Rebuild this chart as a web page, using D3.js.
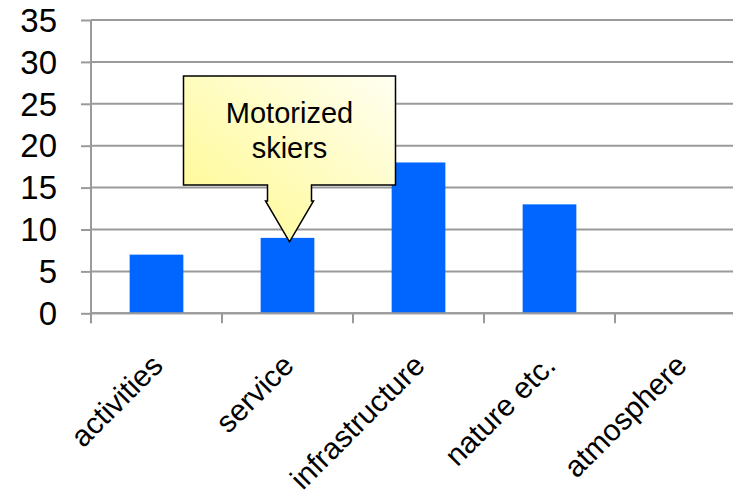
<!DOCTYPE html>
<html>
<head>
<meta charset="utf-8">
<script src="https://cdn.jsdelivr.net/npm/d3@7"></script>
<style>
  html, body { margin: 0; padding: 0; background: #fff; }
  svg { display: block; font-family: "Liberation Sans", Arial, sans-serif; }
</style>
</head>
<body>
<main><div id="svg-container"></div></main>
<script>
/** Chart data */
const categories = ["activities", "service", "infrastructure", "nature etc.", "atmosphere"];
const values = [7, 9, 18, 13, 0];
const yTicks = [0, 5, 10, 15, 20, 25, 30, 35];
const calloutLines = ["Motorized", "skiers"];
const calloutCategory = "service";

function drawSvg() {

  const w = 733;
  const h = 497;

  /** Plot area (right side runs past the window, like the original) */
  const plot = {left: 91, right: 746, top: 20, bottom: 313.3};

  const xScale = d3.scaleBand()
    .domain(categories)
    .range([plot.left, plot.right])
    .paddingInner(0.59)
    .paddingOuter(0.295)
  ;

  const xBand = d3.scaleBand()
    .domain(categories)
    .range([plot.left, plot.right])
  ;

  const yScale = d3.scaleLinear()
    .domain([0, 35])
    .range([plot.bottom, plot.top])
  ;

  const svg = d3.select("main div#svg-container")
    .append("svg")
    .attr("width", w)
    .attr("height", h)
  ;

  /** Gradient for the callout */
  const grad = svg.append("defs").append("linearGradient")
    .attr("id", "callout-fill")
    .attr("x1", "0%").attr("y1", "100%")
    .attr("x2", "100%").attr("y2", "0%")
  ;
  grad.append("stop").attr("offset", "0%").attr("stop-color", "#fff98a");
  grad.append("stop").attr("offset", "100%").attr("stop-color", "#fffff2");

  /** Horizontal gridlines */
  svg.append("g")
    .attr("id", "grid")
    .selectAll("line")
    .data(yTicks)
    .join("line")
    .attr("x1", plot.left)
    .attr("x2", w)
    .attr("y1", d => yScale(d))
    .attr("y2", d => yScale(d))
    .attr("stroke", "#9a9a9a")
    .attr("stroke-width", 2)
  ;

  /** y-axis */
  const yAxis = d3.axisLeft(yScale)
    .tickValues(yTicks)
    .tickSize(10)
    .tickPadding(24)
  ;

  const yG = svg.append("g")
    .attr("id", "y-axis")
    .attr("transform", "translate(" + plot.left + ",0)")
    .call(yAxis)
  ;
  yG.select(".domain").remove();
  yG.append("line")
    .attr("y1", plot.top)
    .attr("y2", plot.bottom + 10)
    .attr("stroke", "#9a9a9a")
    .attr("stroke-width", 2)
  ;
  yG.selectAll(".tick line").attr("stroke", "#9a9a9a").attr("stroke-width", 2);
  yG.selectAll(".tick text")
    .attr("fill", "#000")
    .style("font-size", "33px")
    .attr("dy", "0.34em")
  ;

  /** Bars */
  svg.append("g")
    .attr("id", "bars")
    .selectAll("rect")
    .data(values)
    .join("rect")
    .attr("x", (d, i) => xScale(categories[i]))
    .attr("width", xScale.bandwidth())
    .attr("y", d => yScale(d))
    .attr("height", d => yScale(0) - yScale(d))
    .attr("fill", "#0066ff")
  ;

  /** x-axis: ticks at band edges, labels rotated */
  const xG = svg.append("g")
    .attr("id", "x-axis")
  ;
  xG.append("line")
    .attr("x1", plot.left)
    .attr("x2", w)
    .attr("y1", plot.bottom)
    .attr("y2", plot.bottom)
    .attr("stroke", "#9a9a9a")
    .attr("stroke-width", 2)
  ;
  xG.selectAll("line.tick")
    .data(categories)
    .join("line")
    .attr("class", "tick")
    .attr("x1", d => xBand(d))
    .attr("x2", d => xBand(d))
    .attr("y1", plot.bottom)
    .attr("y2", plot.bottom + 10)
    .attr("stroke", "#9a9a9a")
    .attr("stroke-width", 2)
  ;
  xG.selectAll("text")
    .data(categories)
    .join("text")
    .attr("transform", d => {
      const x = xBand(d) + xBand.bandwidth() / 2 + 8;
      const y = plot.bottom + 54;
      return "translate(" + x + "," + y + ") rotate(-45)";
    })
    .attr("text-anchor", "end")
    .style("font-size", "30px")
    .attr("fill", "#000")
    .text(d => d)
  ;

  /** Callout pointing at the service bar */
  const tipX = xBand(calloutCategory) + xBand.bandwidth() / 2 + 2;
  const tipY = yScale(values[categories.indexOf(calloutCategory)]) + 4;
  const box = {l: tipX - 106, r: tipX + 106, t: 76, b: 185};
  const neck = 22, head = 24, headY = 201;

  const path = d3.path();
  path.moveTo(box.l, box.t);
  path.lineTo(box.r, box.t);
  path.lineTo(box.r, box.b);
  path.lineTo(tipX + neck, box.b);
  path.lineTo(tipX + neck, headY);
  path.lineTo(tipX + head, headY);
  path.lineTo(tipX, tipY);
  path.lineTo(tipX - head, headY);
  path.lineTo(tipX - neck, headY);
  path.lineTo(tipX - neck, box.b);
  path.lineTo(box.l, box.b);
  path.closePath();

  const callout = svg.append("g").attr("id", "callout");
  callout.append("path")
    .attr("d", path.toString())
    .attr("fill", "url(#callout-fill)")
    .attr("stroke", "#000")
    .attr("stroke-width", 1.5)
    .attr("stroke-linejoin", "miter")
  ;
  callout.selectAll("text")
    .data(calloutLines)
    .join("text")
    .attr("x", (box.l + box.r) / 2)
    .attr("y", (d, i) => 123 + i * 35)
    .attr("text-anchor", "middle")
    .style("font-size", "29px")
    .attr("fill", "#000")
    .text(d => d)
  ;
}

drawSvg();
</script>
</body>
</html>
